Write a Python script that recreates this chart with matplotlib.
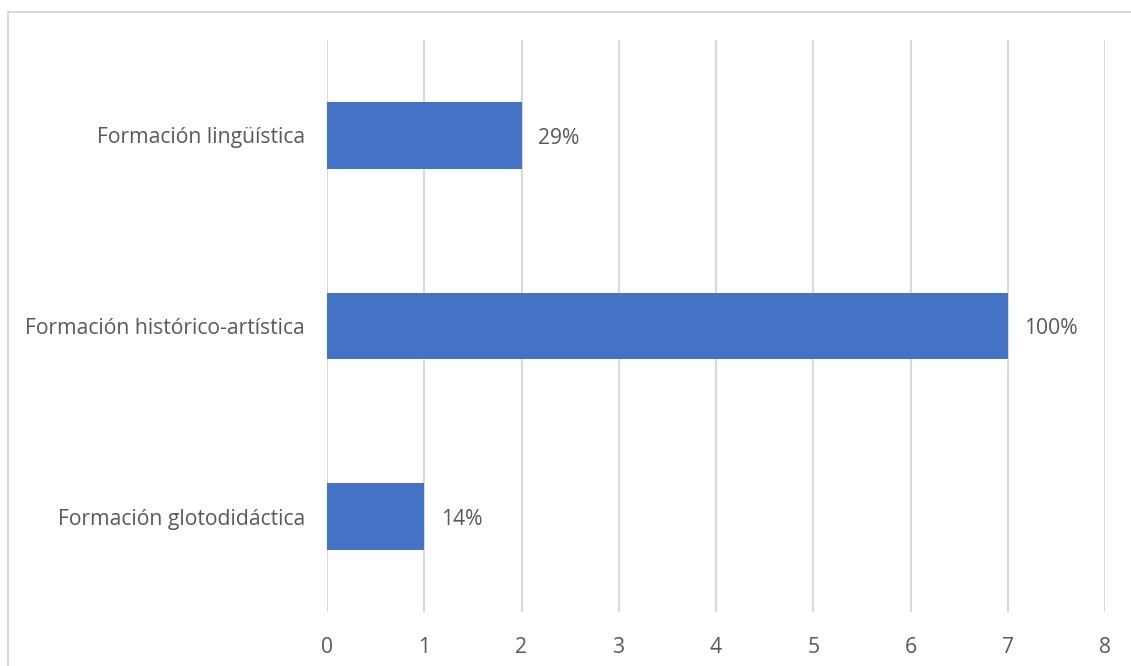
import matplotlib
matplotlib.use("Agg")
import matplotlib.pyplot as plt
from matplotlib.lines import Line2D

categories = ["Formación glotodidáctica", "Formación histórico-artística", "Formación lingüística"]
values = [1, 7, 2]
labels = ["14%", "100%", "29%"]
xticks = [0, 1, 2, 3, 4, 5, 6, 7, 8]

plt.rcParams['font.family'] = ['Open Sans', 'DejaVu Sans']
text_color = "#595959"
grid_color = "#D9D9D9"
bar_color = "#4472C4"
fs = 15.2

fig = plt.figure(figsize=(11.31, 6.66), dpi=100)
W, H = 1131, 666
ax = fig.add_axes([327 / W, 1 - 612 / H, (1105 - 327) / W, (612 - 40) / H])

# Chart border (left and top edges)
fig.lines.append(Line2D([8 / W, 8 / W], [0, 1 - 12 / H], transform=fig.transFigure,
                        color=grid_color, linewidth=1.5))
fig.lines.append(Line2D([8 / W, 1130 / W], [1 - 12 / H, 1 - 12 / H], transform=fig.transFigure,
                        color=grid_color, linewidth=1.5))

ypos = list(range(len(categories)))
ax.barh(ypos, values, height=0.35, color=bar_color, zorder=3)
for y, v, lab in zip(ypos, values, labels):
    ax.annotate(lab, (v, y), xytext=(12, -2), textcoords="offset points",
                va="center", ha="left", fontsize=fs, color=text_color)

ax.set_xlim(0, 8)
ax.set_ylim(-0.5, 2.5)
ax.set_xticks(xticks)
ax.set_yticks(ypos)
ax.set_yticklabels(categories)
ax.tick_params(axis="both", length=0, labelsize=fs, colors=text_color)
ax.tick_params(axis="x", pad=18)
ax.tick_params(axis="y", pad=16)
for t in ax.get_yticklabels():
    t.set_y(t.get_position()[1])
ax.grid(axis="x", color=grid_color, linewidth=1.5, zorder=0)
for s in ax.spines.values():
    s.set_visible(False)

fig.savefig("out.png", dpi=100, facecolor="white")
